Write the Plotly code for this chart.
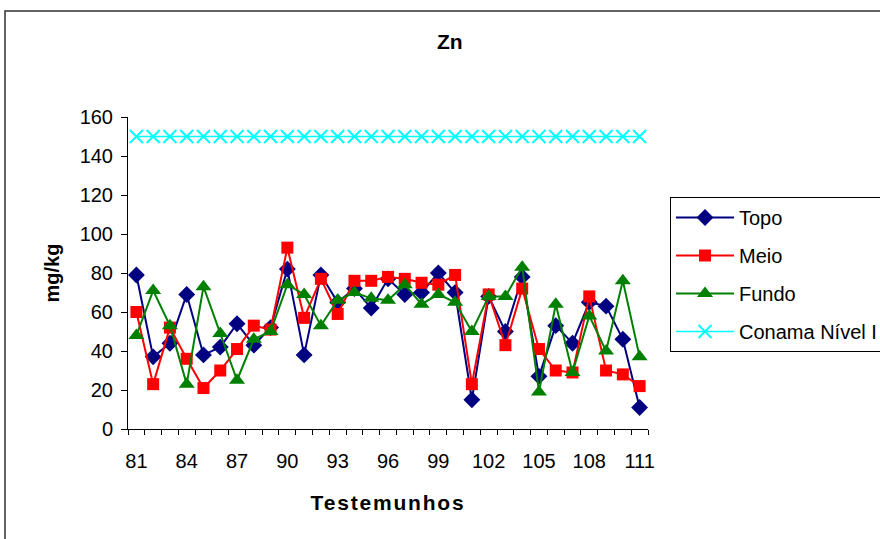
import plotly.graph_objects as go

# Testemunhos (sample cores) 81 to 111
testemunhos = list(range(81, 112))

topo = [79, 37, 44, 69, 38, 42, 54, 43, 52, 82,
        38, 79, 65, 72, 62, 77, 69, 70, 80, 70,
        15, 68, 50, 78, 27, 53, 44, 65, 63, 46, 11]

meio = [60, 23, 52, 36, 21, 30, 41, 53, 51, 93,
        57, 77, 59, 76, 76, 78, 77, 75, 74, 79,
        23, 69, 43, 72, 41, 30, 29, 68, 30, 28, 22]

fundo = [48, 71, 53, 23, 73, 49, 25, 46, 50, 74,
         69, 53, 66, 70, 67, 66, 74, 64, 69, 65,
         50, 68, 68, 83, 19, 64, 29, 58, 40, 76, 37]

conama = [150] * len(testemunhos)

x_ticks = list(range(81, 112, 3))
y_ticks = list(range(0, 161, 20))

FONT = "Liberation Sans, Arial, sans-serif"

# plot area in pixels
L, R, T, B = 128, 648, 117, 429
W, H = 880, 539

fig = go.Figure()

series = [
    ("Topo", topo, "#000080", "diamond", 13),
    ("Meio", meio, "#FF0000", "square", 12),
    ("Fundo", fundo, "#008000", "triangle-up", 14),
]
for name, vals, color, sym, size in series:
    fig.add_trace(go.Scatter(
        x=testemunhos, y=vals, name=name, legendgroup=name,
        mode="lines+markers",
        line=dict(color=color, width=2),
        marker=dict(symbol=sym, size=size, color=color,
                    line=dict(width=0)),
    ))

fig.add_trace(go.Scatter(
    x=testemunhos, y=conama, name="Conama Nível I", legendgroup="conama",
    mode="lines+markers",
    line=dict(color="#00FFFF", width=1.5),
    marker=dict(symbol="x-thin", size=13, color="#00FFFF",
                line=dict(width=2, color="#00FFFF")),
))

# outer chart border (paper coordinates relative to plot area)
pw, ph = R - L, B - T
fig.add_shape(type="rect", xref="paper", yref="paper",
              x0=(5 - L) / pw, x1=(W + 20 - L) / pw,
              y0=(B - (H + 20)) / ph, y1=(B - 11) / ph,
              line=dict(color="#303030", width=1.5),
              fillcolor="rgba(0,0,0,0)", layer="below")

fig.add_annotation(text="<b>Zn</b>", xref="paper", yref="paper",
                   x=(450 - L) / pw, y=(B - 42) / ph,
                   xanchor="center", yanchor="middle", showarrow=False,
                   font=dict(family=FONT, size=21, color="black"))

fig.update_layout(
    width=W, height=H,
    margin=dict(l=L, r=W - R, t=T, b=H - B, autoexpand=False),
    paper_bgcolor="white", plot_bgcolor="white",
    font=dict(family=FONT, size=20, color="black"),
    showlegend=True,
    legend=dict(
        x=(670 - L) / pw, y=(B - 197) / ph, xanchor="left", yanchor="top",
        bordercolor="black", borderwidth=1, bgcolor="white",
        font=dict(family=FONT, size=20, color="black"),
        traceorder="grouped", tracegroupgap=9,
        itemwidth=58,
    ),
    xaxis=dict(
        range=[80.5, 111.5], tickvals=x_ticks,
        ticktext=[str(v) for v in x_ticks],
        ticks="", showgrid=False, zeroline=False,
        showline=True, linecolor="black", linewidth=1,
        ticklabelstandoff=14,
        minor=dict(ticks="outside", tick0=80.5, dtick=1, ticklen=5,
                   tickcolor="black", showgrid=False),
        title=dict(text='<b><span style="letter-spacing:1.8px">Testemunhos</span></b>',
                   standoff=24, font=dict(family=FONT, size=21)),
    ),
    yaxis=dict(
        range=[0, 160], tickvals=y_ticks,
        ticks="outside", ticklen=6, tickcolor="black",
        showgrid=False, zeroline=False,
        showline=True, linecolor="black", linewidth=1,
        ticklabelstandoff=4,
        title=dict(text="<b>mg/kg</b>", standoff=14,
                   font=dict(family=FONT, size=20)),
    ),
)

fig.write_html("out.html")
